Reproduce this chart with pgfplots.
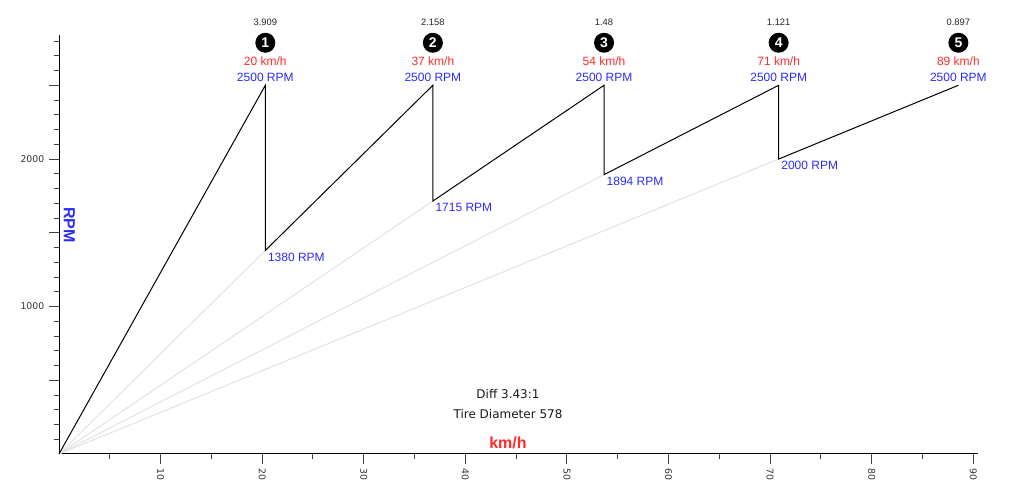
\documentclass[border=0pt]{standalone}
\usepackage{fontspec}
\setmainfont{Liberation Sans}
\newfontfamily\dejavu{DejaVu Sans}
\usepackage{pgfplots}
\pgfplotsset{compat=1.18}
\definecolor{myred}{HTML}{FF2A2A}
\definecolor{myblue}{HTML}{2A2AFF}
\definecolor{lgray}{HTML}{E2E2E2}
\begin{document}
\begin{tikzpicture}
\useasboundingbox (0,0) rectangle (768.75pt,369pt);
\begin{axis}[
  at={(44.25pt,28.5pt)}, anchor=south west,
  scale only axis, width=689.25pt, height=314.25pt,
  xmin=0, xmax=90.46, ymin=0, ymax=2841,
  axis lines=left,
  axis line style={-, black, line width=0.75pt},
  clip=false,
  tick align=outside,
  major tick length=7.5pt, minor tick length=4pt,
  tick style={black!75, line width=0.75pt},
  xtick={10,20,...,90},
  minor xtick={5,15,...,85},
  ytick={500,1000,1500,2000,2500},
  yticklabels={,1000,,2000,},
  minor ytick={100,200,...,2800},
  /pgf/number format/assume math mode=true,
  xticklabel style={rotate=-90, anchor=west, font=\dejavu\fontsize{7}{8}\selectfont, text=black!80},
  yticklabel style={font=\dejavu\fontsize{7}{8}\selectfont, text=black!80},
]
% gray reference lines
\addplot[lgray, line width=0.75pt] coordinates {(0,0) (20.31,1380)};
\addplot[lgray, line width=0.75pt] coordinates {(0,0) (36.80,1715)};
\addplot[lgray, line width=0.75pt] coordinates {(0,0) (53.65,1894)};
\addplot[lgray, line width=0.75pt] coordinates {(0,0) (70.84,2000)};
% sawtooth
\addplot[black, line width=0.75pt] coordinates {
(0,0) (20.31,2500) (20.31,1380) (36.80,2500) (36.80,1715) (53.65,2500) (53.65,1894) (70.84,2500) (70.84,2000) (88.53,2500)};

% drop labels
\node[anchor=west, inner sep=0, text=myblue, font=\fontsize{9}{10}\selectfont, xshift=1.8pt, yshift=-5pt] at (axis cs:20.31,1380) {1380 RPM};
\node[anchor=west, inner sep=0, text=myblue, font=\fontsize{9}{10}\selectfont, xshift=1.8pt, yshift=-5pt] at (axis cs:36.80,1715) {1715 RPM};
\node[anchor=west, inner sep=0, text=myblue, font=\fontsize{9}{10}\selectfont, xshift=1.8pt, yshift=-5pt] at (axis cs:53.65,1894) {1894 RPM};
\node[anchor=west, inner sep=0, text=myblue, font=\fontsize{9}{10}\selectfont, xshift=1.8pt, yshift=-5pt] at (axis cs:70.84,2000) {2000 RPM};

% peak annotations
\node[inner sep=0, text=myblue, font=\fontsize{9}{10}\selectfont, yshift=6pt] at (axis cs:20.31,2500) {2500 RPM};
\node[inner sep=0, text=myred, font=\fontsize{9}{10}\selectfont, yshift=17.7pt] at (axis cs:20.31,2500) {20 km/h};
\node[circle, fill=black, inner sep=0, minimum size=15pt, text=white, font=\bfseries\fontsize{10.5}{11}\selectfont, yshift=31.9pt] at (axis cs:20.31,2500) {1};
\node[inner sep=0, text=black!85, font=\fontsize{7}{7}\selectfont, yshift=47pt] at (axis cs:20.31,2500) {3.909};

\node[inner sep=0, text=myblue, font=\fontsize{9}{10}\selectfont, yshift=6pt] at (axis cs:36.80,2500) {2500 RPM};
\node[inner sep=0, text=myred, font=\fontsize{9}{10}\selectfont, yshift=17.7pt] at (axis cs:36.80,2500) {37 km/h};
\node[circle, fill=black, inner sep=0, minimum size=15pt, text=white, font=\bfseries\fontsize{10.5}{11}\selectfont, yshift=31.9pt] at (axis cs:36.80,2500) {2};
\node[inner sep=0, text=black!85, font=\fontsize{7}{7}\selectfont, yshift=47pt] at (axis cs:36.80,2500) {2.158};

\node[inner sep=0, text=myblue, font=\fontsize{9}{10}\selectfont, yshift=6pt] at (axis cs:53.65,2500) {2500 RPM};
\node[inner sep=0, text=myred, font=\fontsize{9}{10}\selectfont, yshift=17.7pt] at (axis cs:53.65,2500) {54 km/h};
\node[circle, fill=black, inner sep=0, minimum size=15pt, text=white, font=\bfseries\fontsize{10.5}{11}\selectfont, yshift=31.9pt] at (axis cs:53.65,2500) {3};
\node[inner sep=0, text=black!85, font=\fontsize{7}{7}\selectfont, yshift=47pt] at (axis cs:53.65,2500) {1.48};

\node[inner sep=0, text=myblue, font=\fontsize{9}{10}\selectfont, yshift=6pt] at (axis cs:70.84,2500) {2500 RPM};
\node[inner sep=0, text=myred, font=\fontsize{9}{10}\selectfont, yshift=17.7pt] at (axis cs:70.84,2500) {71 km/h};
\node[circle, fill=black, inner sep=0, minimum size=15pt, text=white, font=\bfseries\fontsize{10.5}{11}\selectfont, yshift=31.9pt] at (axis cs:70.84,2500) {4};
\node[inner sep=0, text=black!85, font=\fontsize{7}{7}\selectfont, yshift=47pt] at (axis cs:70.84,2500) {1.121};

\node[inner sep=0, text=myblue, font=\fontsize{9}{10}\selectfont, yshift=6pt] at (axis cs:88.53,2500) {2500 RPM};
\node[inner sep=0, text=myred, font=\fontsize{9}{10}\selectfont, yshift=17.7pt] at (axis cs:88.53,2500) {89 km/h};
\node[circle, fill=black, inner sep=0, minimum size=15pt, text=white, font=\bfseries\fontsize{10.5}{11}\selectfont, yshift=31.9pt] at (axis cs:88.53,2500) {5};
\node[inner sep=0, text=black!85, font=\fontsize{7}{7}\selectfont, yshift=47pt] at (axis cs:88.53,2500) {0.897};

% axis labels
\node[rotate=-90, inner sep=0, text=myblue, font=\bfseries\fontsize{12}{13}\selectfont] at (rel axis cs:0.0114,0.5465) {RPM};
\node[inner sep=0, text=myred, font=\bfseries\fontsize{12}{13}\selectfont] at (rel axis cs:0.4886,0.027) {km/h};

% info text
\node[inner sep=0, text=black!90, font=\dejavu\fontsize{9}{10}\selectfont] at (rel axis cs:0.4886,0.1432) {Diff 3.43:1};
\node[inner sep=0, text=black!90, font=\dejavu\fontsize{9}{10}\selectfont] at (rel axis cs:0.4886,0.0955) {Tire Diameter 578};
\end{axis}
\end{tikzpicture}
\end{document}
